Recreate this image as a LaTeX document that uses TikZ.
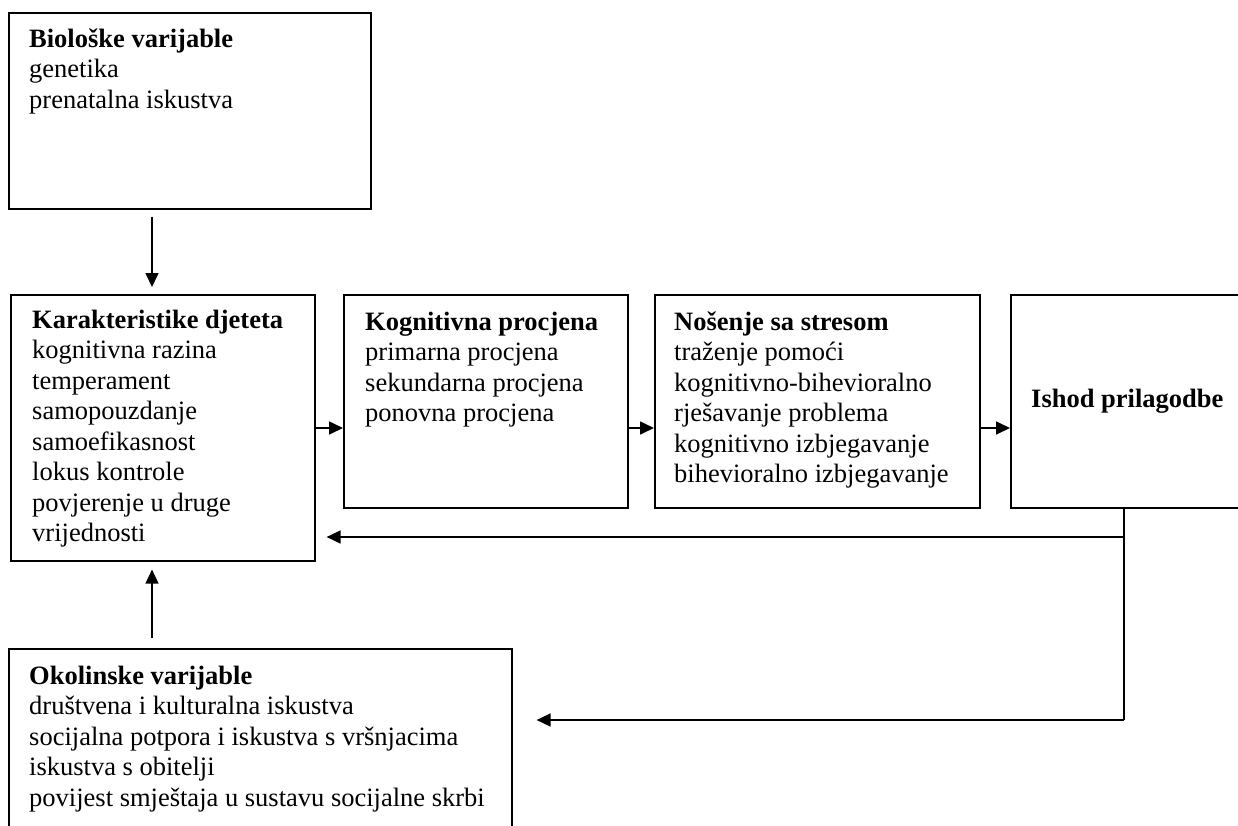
\documentclass[tikz,border=0pt]{standalone}
\usepackage{fontspec}
\setmainfont{Liberation Serif}
\usetikzlibrary{arrows.meta}
\newcommand{\boxlines}[1]{\fontsize{26.5pt}{30.5pt}\selectfont\begin{tabular}[t]{@{}l@{}}#1\end{tabular}}
\begin{document}
\begin{tikzpicture}[x=1pt,y=-1pt,
  box/.style={draw, line width=1.6pt, inner sep=0pt, anchor=north west},
  txt/.style={inner sep=0pt, anchor=base west, align=left},
  arr/.style={line width=1.6pt, -{Triangle[length=14pt,width=13pt]}},
  ln/.style={line width=1.6pt}]
\clip (0,0) rectangle (1238,825);
\fill[white] (0,0) rectangle (1238,825);
% boxes
\node[box, minimum width=362pt, minimum height=196pt] (bio) at (8,12) {};
\node[box, minimum width=304pt, minimum height=266pt] (kar) at (10,294) {};
\node[box, minimum width=284pt, minimum height=213pt] (kog) at (343,294) {};
\node[box, minimum width=325pt, minimum height=213pt] (nos) at (654,294) {};
\node[box, minimum width=250pt, minimum height=213pt] (ish) at (1010,294) {};
\node[box, minimum width=503pt, minimum height=220pt] (oko) at (8,648) {};
% texts
\node[txt] (bioT) at (29,47) {\boxlines{\textbf{Biološke varijable}\\ genetika\\ prenatalna iskustva}};
\node[txt] (karT) at (32,328) {\boxlines{\textbf{Karakteristike djeteta}\\ kognitivna razina\\ temperament\\ samopouzdanje\\ samoefikasnost\\ lokus kontrole\\ povjerenje u druge\\ vrijednosti}};
\node[txt] (kogT) at (365,330) {\boxlines{\textbf{Kognitivna procjena}\\ primarna procjena\\ sekundarna procjena\\ ponovna procjena}};
\node[txt] (nosT) at (674,330) {\boxlines{\textbf{Nošenje sa stresom}\\ traženje pomoći\\ kognitivno-bihevioralno\\ rješavanje problema\\ kognitivno izbjegavanje\\ bihevioralno izbjegavanje}};
\node[txt] (ishT) at (1031,407) {\boxlines{\textbf{Ishod prilagodbe}}};
\node[txt] (okoT) at (29,684) {\boxlines{\textbf{Okolinske varijable}\\ društvena i kulturalna iskustva\\ socijalna potpora i iskustva s vršnjacima\\ iskustva s obitelji\\ povijest smještaja u sustavu socijalne skrbi}};
% connectors
\draw[arr, shorten <=7pt, shorten >=7pt] (152,0 |- bio.south) -- (152,0 |- kar.north);
\draw[arr, shorten <=10pt, shorten >=8pt] (152,0 |- oko.north) -- (152,0 |- kar.south);
\coordinate (row) at (0,428);
\draw[arr] (kar.east |- row) -- (kog.west |- row);
\draw[arr] (kog.east |- row) -- (nos.west |- row);
\draw[arr] (nos.east |- row) -- (ish.west |- row);
\coordinate (j1) at (1124,537);
\coordinate (j2) at (1124,720);
\draw[ln] (j1 |- ish.south) -- (j2);
\draw[arr] (j1) -- ([xshift=11pt]kar.east |- j1);
\draw[arr] (j2) -- ([xshift=24pt]oko.east |- j2);
\end{tikzpicture}
\end{document}
